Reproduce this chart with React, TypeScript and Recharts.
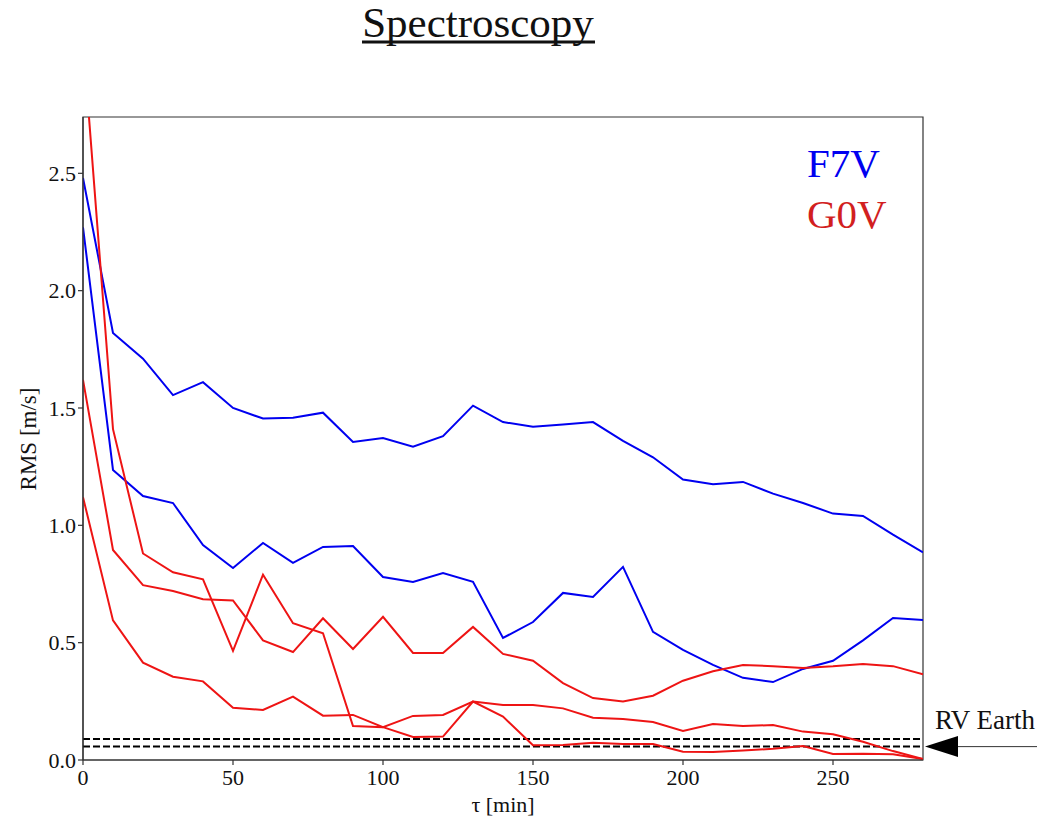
import React from 'react';
import {
  LineChart,
  Line,
  XAxis,
  YAxis,
  ReferenceLine,
  ReferenceArea,
  ReferenceDot,
} from 'recharts';

// Integration time τ in minutes
const tau = [0, 10, 20, 30, 40, 50, 60, 70, 80, 90, 100, 110, 120, 130, 140, 150, 160, 170, 180, 190, 200, 210, 220, 230, 240, 250, 260, 270, 280];

// F7V residual RMS curves [m/s]
const f7vUpper = [2.48, 1.82, 1.71, 1.555, 1.61, 1.5, 1.455, 1.458, 1.48, 1.355, 1.372, 1.335, 1.38, 1.51, 1.44, 1.42, 1.43, 1.44, 1.36, 1.29, 1.195, 1.175, 1.185, 1.135, 1.095, 1.05, 1.04, 0.96, 0.885];
const f7vLower = [2.27, 1.236, 1.125, 1.095, 0.916, 0.818, 0.925, 0.84, 0.908, 0.912, 0.78, 0.759, 0.797, 0.759, 0.52, 0.588, 0.712, 0.695, 0.823, 0.546, 0.469, 0.405, 0.35, 0.332, 0.388, 0.423, 0.51, 0.605, 0.597];

// G0V residual RMS curves [m/s]
const g0vA = [3.07, 1.41, 0.88, 0.8, 0.77, 0.465, 0.79, 0.583, 0.54, 0.145, 0.14, 0.098, 0.1, 0.249, 0.185, 0.063, 0.064, 0.074, 0.068, 0.068, 0.035, 0.034, 0.04, 0.048, 0.06, 0.026, 0.027, 0.024, 0.004];
const g0vB = [1.62, 0.895, 0.745, 0.72, 0.685, 0.68, 0.51, 0.46, 0.604, 0.473, 0.61, 0.456, 0.456, 0.567, 0.452, 0.423, 0.328, 0.264, 0.249, 0.274, 0.338, 0.378, 0.405, 0.4, 0.392, 0.399, 0.409, 0.4, 0.365];
const g0vC = [1.12, 0.595, 0.415, 0.355, 0.335, 0.223, 0.213, 0.27, 0.189, 0.192, 0.14, 0.188, 0.192, 0.249, 0.234, 0.234, 0.22, 0.18, 0.175, 0.162, 0.124, 0.153, 0.145, 0.149, 0.121, 0.11, 0.078, 0.038, 0.004];

// Earth-signal RV amplitude band [m/s]
const rvEarthLevels = [0.09, 0.057];

const xTicks = [0, 50, 100, 150, 200, 250];
const yTicks = [0, 0.5, 1.0, 1.5, 2.0, 2.5];
const xDomain = [0, 280];
const yDomain = [0, 2.74];

const data = tau.map((t, i) => ({
  tau: t,
  f7vUpper: f7vUpper[i],
  f7vLower: f7vLower[i],
  g0vA: g0vA[i],
  g0vB: g0vB[i],
  g0vC: g0vC[i],
}));

const SERIF = '"Liberation Serif", "Times New Roman", serif';
const BLUE = '#0000f0';
const RED = '#ee1414';
const RED_TEXT = '#d21f1f';
const AXIS = '#333';

const W = 1049;
const H = 819;

const blueKeys = ['f7vUpper', 'f7vLower'];
const redKeys = ['g0vA', 'g0vB', 'g0vC'];

const EarthArrow = (props: any) => {
  const { cx, cy } = props;
  if (cx == null || cy == null) return <g />;
  const tipX = cx + 2;
  const baseX = tipX + 33;
  return (
    <g>
      <polygon
        points={`${tipX},${cy} ${baseX},${cy - 10.5} ${baseX},${cy + 10.5}`}
        fill="#000"
      />
      <line x1={baseX} y1={cy} x2={tipX + 112} y2={cy} stroke="#333" strokeWidth={1} />
      <text x={tipX + 10} y={cy - 18} fontFamily={SERIF} fontSize={27} fill="#111">
        RV Earth
      </text>
    </g>
  );
};

export default function App() {
  return (
    <div style={{ position: 'absolute', left: 0, top: 0, width: W, height: H, background: '#fff' }}>
      <LineChart
        width={W}
        height={H}
        data={data}
        margin={{ top: 117, right: 126, bottom: 0, left: 0 }}
      >
        <XAxis
          dataKey="tau"
          type="number"
          domain={xDomain}
          ticks={xTicks}
          allowDataOverflow
          height={59}
          tickSize={5}
          tickMargin={4}
          axisLine={{ stroke: AXIS, strokeWidth: 1.2 }}
          tickLine={{ stroke: AXIS, strokeWidth: 1.2 }}
          tick={{ fontFamily: SERIF, fontSize: 22, fill: '#111' }}
          label={{
            content: () => (
              <text x={503} y={812} textAnchor="middle" fontFamily={SERIF} fontSize={22} fill="#111">
                τ [min]
              </text>
            ),
          }}
        />
        <YAxis
          type="number"
          domain={yDomain}
          ticks={yTicks}
          allowDataOverflow
          width={83}
          tickSize={5}
          tickMargin={2}
          tickFormatter={(v: number) => v.toFixed(1)}
          axisLine={{ stroke: AXIS, strokeWidth: 1.2 }}
          tickLine={{ stroke: AXIS, strokeWidth: 1.2 }}
          tick={{ fontFamily: SERIF, fontSize: 22, fill: '#111' }}
          label={{
            content: () => (
              <text
                x={36}
                y={439}
                textAnchor="middle"
                transform="rotate(-90 36 439)"
                fontFamily={SERIF}
                fontSize={23}
                fill="#111"
              >
                RMS [m/s]
              </text>
            ),
          }}
        />
        <ReferenceArea
          x1={xDomain[0]}
          x2={xDomain[1]}
          y1={yDomain[0]}
          y2={yDomain[1]}
          fill="none"
          stroke={AXIS}
          strokeWidth={1.2}
          ifOverflow="visible"
        />
        {rvEarthLevels.map((lvl) => (
          <ReferenceLine
            key={lvl}
            y={lvl}
            stroke="#000"
            strokeWidth={2}
            strokeDasharray="7 3"
          />
        ))}
        {blueKeys.map((k) => (
          <Line
            key={k}
            type="linear"
            dataKey={k}
            stroke={BLUE}
            strokeWidth={2}
            dot={false}
            isAnimationActive={false}
          />
        ))}
        {redKeys.map((k) => (
          <Line
            key={k}
            type="linear"
            dataKey={k}
            stroke={RED}
            strokeWidth={2}
            dot={false}
            isAnimationActive={false}
          />
        ))}
        <ReferenceDot
          x={xDomain[1]}
          y={rvEarthLevels[1]}
          ifOverflow="visible"
          shape={EarthArrow}
        />
      </LineChart>
      <svg
        width={W}
        height={H}
        style={{ position: 'absolute', left: 0, top: 0, pointerEvents: 'none' }}
      >
        <text x={478} y={37} textAnchor="middle" fontFamily={SERIF} fontSize={43} fill="#111">
          Spectroscopy
        </text>
        <line x1={362} x2={595} y1={42} y2={42} stroke="#111" strokeWidth={3} />
        <text x={807} y={177} fontFamily={SERIF} fontSize={41} fill={BLUE}>
          F7V
        </text>
        <text x={807} y={228} fontFamily={SERIF} fontSize={41} fill={RED_TEXT}>
          G0V
        </text>
      </svg>
    </div>
  );
}
